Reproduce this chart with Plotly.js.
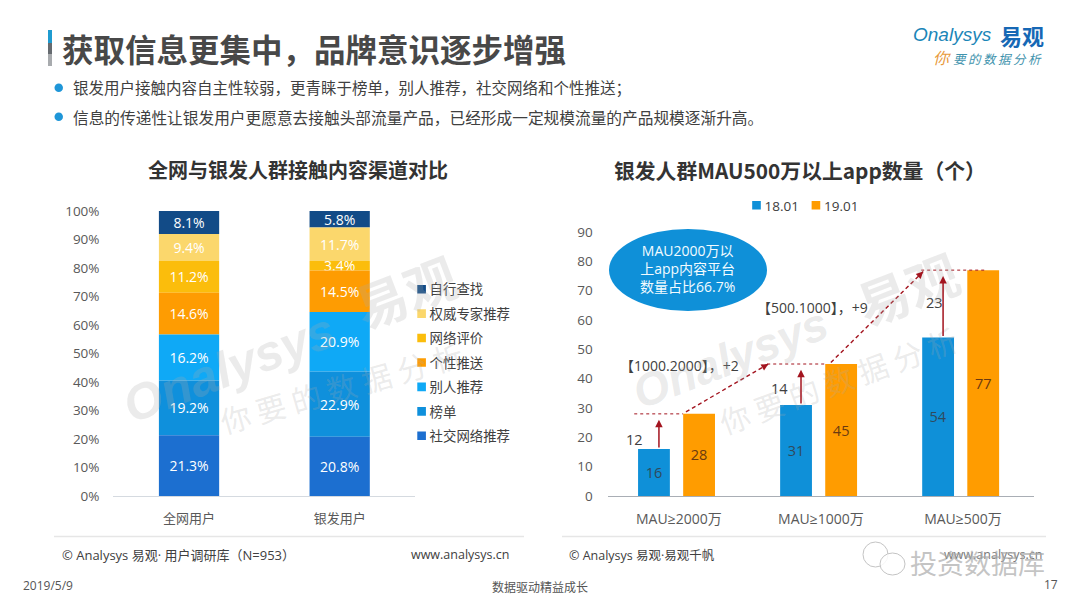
<!DOCTYPE html>
<html><head><meta charset="utf-8">
<script src="https://cdn.plot.ly/plotly-3.0.1.min.js"></script>
<style>html,body{margin:0;padding:0;background:#fff}#c{width:1080px;height:608px}</style>
</head><body><div id="c"></div>
<script>
const FONT = '"Open Sans","Noto Sans CJK SC",sans-serif';
const CJK = '"Noto Sans CJK SC","Open Sans",sans-serif';
const LIB = '"Liberation Sans",sans-serif';
const leftCats = ['全网用户','银发用户'];
const channelNames = ['社交网络推荐','榜单','别人推荐','个性推送','网络评价','权威专家推荐','自行查找'];
const channelColors = ['#1c6fd0','#0f90dc','#0fa9f6','#fe9c02','#fbbd0c','#fbd76c','#124b87'];
const allUsers = [21.3,19.2,16.2,14.6,11.2,9.4,8.1];
const silverUsers = [20.8,22.9,20.9,14.5,3.4,11.7,5.8];
const rightCats = ['MAU≥2000万','MAU≥1000万','MAU≥500万'];
const jan18 = [16,31,54];
const jan19 = [28,45,77];
const deltas = [12,14,23];

const px = x => x/1080, py = y => 1-y/608;

const lb=[0,0];
const stacked=channelNames.map((n,i)=>{
  const vals=[allUsers[i],silverUsers[i]];
  const t={type:'bar',name:n,x:leftCats,y:vals,base:lb.slice(),width:0.4,xaxis:'x',yaxis:'y',legend:'legend',legendgroup:n,
    marker:{color:channelColors[i]},text:vals.map(v=>v.toFixed(1)+'%'),textposition:'inside',insidetextanchor:'middle',
    textangle:0,constraintext:'none',textfont:{family:FONT,size:14,color:'#fff'},hoverinfo:'skip'};
  vals.forEach((v,k)=>lb[k]+=v);
  return t;
});
const traces=stacked.reverse();
traces.push({type:'bar',name:'18.01',x:rightCats,y:jan18,width:0.224,offset:-0.287,xaxis:'x2',yaxis:'y2',legend:'legend2',marker:{color:'#0f90d8'},
  text:jan18.map(String),textposition:'inside',insidetextanchor:'middle',textangle:0,textfont:{family:FONT,size:14.5,color:'#2f4a5c'},hoverinfo:'skip'});
traces.push({type:'bar',name:'19.01',x:rightCats,y:jan19,width:0.224,offset:0.0305,xaxis:'x2',yaxis:'y2',legend:'legend2',marker:{color:'#ff9c00'},
  text:jan19.map(String),textposition:'inside',insidetextanchor:'middle',textangle:0,textfont:{family:FONT,size:14.5,color:'#6b3a10'},hoverinfo:'skip'});

const txt=(x,y,text,size,color,opts={})=>Object.assign({xref:'paper',yref:'paper',x:px(x),y:py(y),text,showarrow:false,
  xanchor:'left',yanchor:'middle',font:{family:opts.family||CJK,size,color}},opts);

const RED='#a3141f';
const WM='rgba(170,170,170,.24)';
const annotations=[
  txt(60,48,'<b>获取信息更集中，品牌意识逐步增强</b>',31.5,'#484848'),
  txt(70.5,87,'银发用户接触内容自主性较弱，更青睐于榜单，别人推荐，社交网络和个性推送；',15.5,'#404040'),
  txt(70.5,117,'信息的传递性让银发用户更愿意去接触头部流量产品，已经形成一定规模流量的产品规模逐渐升高。',15.7,'#404040'),
  txt(297.5,170,'<b>全网与银发人群接触内容渠道对比</b>',20,'#333',{xanchor:'center'}),
  txt(800,170,'<b>银发人群MAU500万以上app数量（个）</b>',20.8,'#333',{xanchor:'center'}),
  txt(687.5,269,'MAU2000万以<br>上app内容平台<br>数量占比66.7%',14,'#f2fbff',{xanchor:'center',family:FONT}),
  txt(618,365,'【1000.2000】，+2',14,'#404040',{family:FONT}),
  txt(755,307,'【500.1000】，+9',14,'#404040',{family:FONT}),
  txt(635,439,String(deltas[0]),14.5,'#404040',{xanchor:'center',family:FONT}),
  txt(779,388,String(deltas[1]),14.5,'#404040',{xanchor:'center',family:FONT}),
  txt(934.5,302,String(deltas[2]),14.5,'#404040',{xanchor:'center',family:FONT}),
  txt(60,555,'© Analysys 易观· 用户调研库（N=953）',13,'#404040',{family:FONT}),
  txt(409,554,'www.analysys.cn',12.5,'#404040',{family:FONT}),
  txt(567,555,'© Analysys 易观·易观千帆',12.5,'#404040',{family:FONT}),
  txt(942,554,'www.analysys.cn',12.5,'#777',{family:FONT}),
  txt(21,585,'2019/5/9',12,'#555',{family:FONT}),
  txt(540,586,'数据驱动精益成长',12,'#555',{xanchor:'center'}),
  txt(1060,584,'17',12,'#555',{xanchor:'right',family:FONT}),
  txt(911,35,'<i>Onalysys</i>',19,'#1b86b8',{family:LIB}),
  txt(998,35,'<b>易观</b>',22,'#1668b5'),
  txt(931,57,'<i>你</i>',16,'#e89a3c'),
  txt(951,58,'<i>要\u2009的\u2009数\u2009据\u2009分\u2009析</i>',12.5,'#3f93ad'),
  // watermarks
  txt(229,368,'<b><i>Onalysys</i></b>',50,WM,{textangle:-21,xanchor:'center',family:LIB}),
  txt(405,290,'<b>易观</b>',52,WM,{textangle:-21,xanchor:'center'}),
  txt(341,387,'你 要 的 数 据 分 析',30,WM,{textangle:-16,xanchor:'center'}),
  txt(730,358,'<b><i>Onalysys</i></b>',46,WM,{textangle:-21,xanchor:'center',family:LIB}),
  txt(907,287,'<b>易观</b>',52,WM,{textangle:-21,xanchor:'center'}),
  txt(838,380,'你 要 的 数 据 分 析',30,WM,{textangle:-20,xanchor:'center'}),
  txt(977,562,'投资数据库',27,'rgba(170,170,170,.7)',{xanchor:'center'})
];
// vertical growth arrows: from the 18.01 bar top, up by the delta
rightCats.forEach((c,i)=>{
  annotations.push({xref:'x2',yref:'y2',axref:'x2',ayref:'y2',x:i-0.14,ax:i-0.14,y:jan18[i]+deltas[i]-2,ay:jan18[i],
    text:'',showarrow:true,arrowhead:2,arrowsize:1,arrowwidth:1.5,arrowcolor:RED});
});
const diagonals=[[0.05,jan19[0]+.7,0.63,jan19[1]],[1.07,jan19[1]+.5,1.72,jan19[2]-.5]];
diagonals.forEach(d=>{
  const tx=d[0]+(d[2]-d[0])*.93, ty=d[1]+(d[3]-d[1])*.93;
  annotations.push({xref:'x2',yref:'y2',axref:'x2',ayref:'y2',x:d[2],y:d[3],ax:tx,ay:ty,text:'',showarrow:true,arrowhead:2,arrowsize:1,arrowwidth:1.4,arrowcolor:RED});
});

const circle=(x0,x1,y0,y1,fill,line)=>({type:'circle',xref:'paper',yref:'paper',x0:px(x0),x1:px(x1),y0:py(y1),y1:py(y0),fillcolor:fill,line:line||{width:0}});
const rect=(x0,x1,y0,y1,fill)=>({type:'rect',xref:'paper',yref:'paper',x0:px(x0),x1:px(x1),y0:py(y1),y1:py(y0),fillcolor:fill,line:{width:0}});
const shapes=[
  rect(48,52,30,43,'#1f9bd0'),rect(48,52,43,54,'#666b70'),rect(48,52,54,66,'#a8abae'),
  circle(54.5,63,83.5,92,'#1f96d8'),circle(54.5,63,112.5,121,'#1f96d8'),
  circle(609,767,229,311,'#0f90d8'),
  {type:'line',xref:'paper',yref:'paper',x0:px(54),x1:px(524),y0:py(536.5),y1:py(536.5),line:{color:'#e6e6e6',width:1.5}},
  {type:'line',xref:'paper',yref:'paper',x0:px(562),x1:px(1046),y0:py(536.5),y1:py(536.5),line:{color:'#e6e6e6',width:1.5}},
  circle(863,888,542,567,'rgba(255,255,255,.5)',{color:'#c4c4c4',width:1}),
  circle(880,905,553,575,'rgba(255,255,255,.85)',{color:'#c4c4c4',width:1})
];
[[-0.314,0.03,jan19[0]],[0.622,1.035,jan19[1]],[1.706,2.158,jan19[2]]].forEach(s=>{
  shapes.push({type:'line',xref:'x2',yref:'y2',x0:s[0],x1:s[1],y0:s[2],y1:s[2],line:{color:RED,width:1,dash:'dot'}});
});
diagonals.forEach(d=>shapes.push({type:'line',xref:'x2',yref:'y2',x0:d[0],y0:d[1],x1:d[2],y1:d[3],line:{color:RED,width:1.4,dash:'4px,3px'}}));

const tickFont={family:FONT,size:13.5,color:'#595959'};
const layout={
  width:1080,height:608,margin:{l:0,r:0,t:0,b:0},paper_bgcolor:'#fff',plot_bgcolor:'rgba(0,0,0,0)',
  barmode:'overlay',showlegend:true,
  xaxis:{domain:[px(112.5),px(415)],range:[-0.508,1.5],type:'category',showgrid:false,zeroline:false,showline:true,linecolor:'#d5dae0',linewidth:1,ticks:'',tickfont:{family:CJK,size:13,color:'#595959'},ticklabelstandoff:10,anchor:'y'},
  yaxis:{domain:[py(496),py(211)],range:[0,100],dtick:10,ticksuffix:'%',showgrid:false,zeroline:false,showline:false,ticks:'',tickfont:tickFont,ticklabelstandoff:12,anchor:'x'},
  xaxis2:{domain:[px(607.8),px(1034)],range:[-0.5,2.5],type:'category',showgrid:false,zeroline:false,showline:true,linecolor:'#a9aeb5',linewidth:1,ticks:'',tickfont:{family:FONT,size:14,color:'#595959'},ticklabelstandoff:10,anchor:'y2'},
  yaxis2:{domain:[py(496),py(232)],range:[0,90],dtick:10,showgrid:false,zeroline:false,showline:false,ticks:'',tickfont:tickFont,ticklabelstandoff:14,anchor:'x2'},
  legend:{x:px(389.6),y:py(274),xanchor:'left',yanchor:'top',traceorder:'grouped',tracegroupgap:4,font:{family:CJK,size:13.4,color:'#404040'},bgcolor:'rgba(0,0,0,0)'},
  legend2:{x:px(724.5),y:py(190),xanchor:'left',yanchor:'top',orientation:'h',font:{family:FONT,size:13.5,color:'#404040'},bgcolor:'rgba(0,0,0,0)'},
  annotations,shapes
};
Plotly.newPlot('c',traces,layout,{staticPlot:true,displayModeBar:false}).then(()=>{
  // tighten legend swatches to the small squares beside their labels
  document.querySelectorAll('.legendsymbols').forEach(s=>{
    s.setAttribute('transform','translate(32,0) scale(.72) translate(-20,0)');
  });
  // pull the second top legend entry next to the first
  const items=document.querySelectorAll('.legend2 .traces');
  if(items.length>1){
    const t=items[1].getAttribute('transform');
    const m=/translate\(\s*([-\d.]+)[ ,]+([-\d.]+)/.exec(t);
    if(m) items[1].setAttribute('transform','translate('+(parseFloat(m[1])-20)+','+m[2]+')');
  }
});
</script></body></html>
